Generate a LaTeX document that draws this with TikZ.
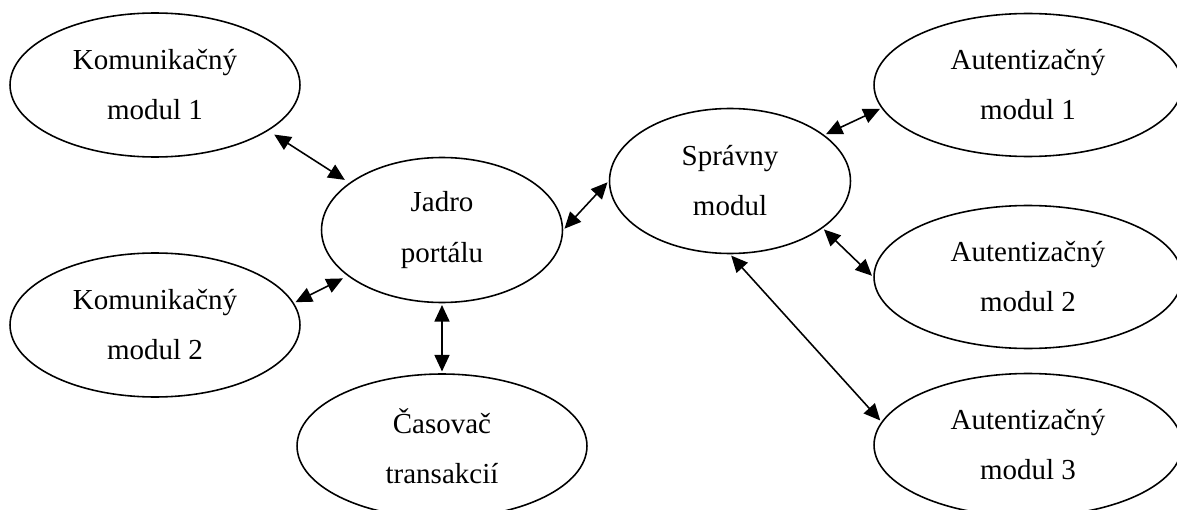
\documentclass[tikz,border=0pt]{standalone}
\usepackage{fontspec}
\setmainfont{Liberation Serif}
\usetikzlibrary{shapes.geometric,arrows.meta}
\tikzset{
  modul/.style={draw, ellipse, line width=0.9pt, align=center,
    font=\fontsize{16.5pt}{28.5pt}\selectfont},
  wide/.style={modul, minimum width=5.8cm, minimum height=2.88cm},
  core/.style={modul, minimum width=4.82cm, minimum height=2.9cm},
  auth/.style={modul, minimum width=6.16cm, minimum height=2.86cm},
  link/.style={{Triangle[length=0.33cm,width=0.3cm]}-{Triangle[length=0.33cm,width=0.3cm]},
    line width=0.9pt, shorten <=1pt, shorten >=1pt}
}
\begin{document}
\begin{tikzpicture}[x=0.02cm, y=-0.02cm]
  \useasboundingbox (0,0) rectangle (1177,510);
  \node[wide] (kom1) at (155,85) {Komunikačný\\modul 1};
  \node[wide] (kom2) at (155,325) {Komunikačný\\modul 2};
  \node[core] (jadro) at (442,230) {Jadro\\portálu};
  \node[wide] (casovac) at (442,446) {Časovač\\transakcií};
  \node[core] (spravny) at (730,181) {Správny\\modul};
  \node[auth] (aut1) at (1028,85) {Autentizačný\\modul 1};
  \node[auth] (aut2) at (1028,277) {Autentizačný\\modul 2};
  \node[auth] (aut3) at (1028,445) {Autentizačný\\modul 3};
  % spojenia
  \draw[link, shorten <=4pt, shorten >=3pt] (kom1.-22) -- (jadro.153);
  \draw[link, shorten >=3pt] (kom2.9) -- (jadro.206);
  \draw[link] (jadro.south) -- (casovac.north);
  \draw[link] (jadro.east) -- (spravny.west);
  \draw[link] (spravny.26) -- (aut1.189);
  \draw[link] (spravny.-27) -- (aut2.west);
  \draw[link] (spravny.south) -- (aut3.171);
\end{tikzpicture}
\end{document}
